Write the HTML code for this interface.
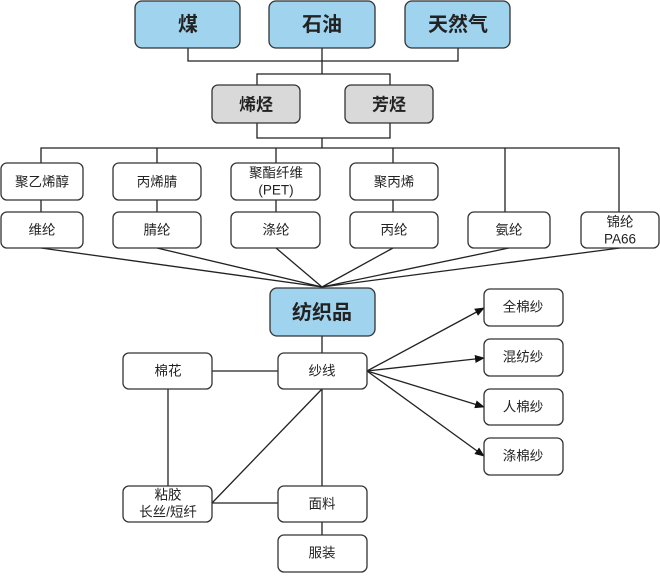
<!DOCTYPE html>
<html><head><meta charset="utf-8"><style>
body{margin:0;background:#fff;}
svg text{font-family:"Liberation Sans","Noto Sans CJK SC",sans-serif;text-anchor:middle;dominant-baseline:central;fill:#222;}
</style></head><body>
<svg width="660" height="573" viewBox="0 0 660 573" xmlns="http://www.w3.org/2000/svg">
<defs><marker id="a" markerWidth="10" markerHeight="8" refX="9" refY="4" orient="auto" markerUnits="userSpaceOnUse"><path d="M0,0 L10,4 L0,8 z" fill="#111"/></marker></defs>
<g stroke="#222" stroke-width="1.3" fill="none">
<path d="M188,48V61H458V48M322,48V74M257,85V74H390V85"/>
<path d="M257,123V138H390V123M322,138V148M41,163V148H619V212M157,148V163M276,148V163M393,148V163M505,148V212"/>
<path d="M41,200V212M157,200V212M276,200V212M393,200V212"/>
<path d="M41,248L322,287M157,248L322,287M276,248L322,287M393,248L322,287M509,248L322,287M620,248L322,287"/>
<path d="M322,336V353M212,371H278M168,389V486M212,503H278M322,389V486M322,389L212,503M322,522V535"/>
<line x1="367" y1="371" x2="484" y2="308" marker-end="url(#a)"/>
<line x1="367" y1="371" x2="484" y2="358" marker-end="url(#a)"/>
<line x1="367" y1="371" x2="484" y2="407" marker-end="url(#a)"/>
<line x1="367" y1="371" x2="484" y2="456" marker-end="url(#a)"/>
</g>
<g stroke="#333" stroke-width="1.3">
<rect x="135" y="1" width="105" height="47" rx="7" fill="#9fd3ee"/>
<rect x="269" y="1" width="106" height="47" rx="7" fill="#9fd3ee"/>
<rect x="405" y="1" width="105" height="47" rx="7" fill="#9fd3ee"/>
<rect x="212" y="85" width="88" height="38" rx="6" fill="#d9d9d9"/>
<rect x="345" y="85" width="88" height="38" rx="6" fill="#d9d9d9"/>
<g fill="#fff">
<rect x="1" y="163" width="82" height="37" rx="6"/>
<rect x="113" y="163" width="88" height="37" rx="6"/>
<rect x="231" y="163" width="89" height="37" rx="6"/>
<rect x="350" y="163" width="88" height="37" rx="6"/>
<rect x="1" y="212" width="82" height="36" rx="6"/>
<rect x="113" y="212" width="88" height="36" rx="6"/>
<rect x="231" y="212" width="89" height="36" rx="6"/>
<rect x="350" y="212" width="88" height="36" rx="6"/>
<rect x="468" y="212" width="82" height="36" rx="6"/>
<rect x="581" y="212" width="78" height="36" rx="6"/>
<rect x="123" y="353" width="89" height="36" rx="6"/>
<rect x="278" y="353" width="89" height="36" rx="6"/>
<rect x="484" y="289" width="79" height="37" rx="6"/>
<rect x="484" y="339" width="79" height="37" rx="6"/>
<rect x="484" y="389" width="79" height="36" rx="6"/>
<rect x="484" y="438" width="79" height="37" rx="6"/>
<rect x="123" y="486" width="89" height="36" rx="6"/>
<rect x="278" y="486" width="89" height="36" rx="6"/>
<rect x="278" y="535" width="89" height="37" rx="6"/>
</g>
<rect x="270" y="288" width="105" height="48" rx="7" fill="#9fd3ee"/>
</g>
<g font-size="20" font-weight="bold">
<text x="188" y="25">煤</text><text x="322" y="25">石油</text><text x="458" y="25">天然气</text>
<text x="322" y="313">纺织品</text>
</g>
<g font-size="17" font-weight="bold">
<text x="256" y="105">烯烃</text><text x="389" y="105">芳烃</text>
</g>
<g font-size="13.5">
<text x="42" y="182">聚乙烯醇</text><text x="157" y="182">丙烯腈</text>
<text x="276" y="173">聚酯纤维</text><text x="276" y="190">(PET)</text>
<text x="394" y="182">聚丙烯</text>
<text x="42" y="230">维纶</text><text x="157" y="230">腈纶</text><text x="276" y="230">涤纶</text><text x="394" y="230">丙纶</text><text x="509" y="230">氨纶</text>
<text x="620" y="222">锦纶</text><text x="620" y="239">PA66</text>
<text x="168" y="371">棉花</text><text x="322" y="371">纱线</text>
<text x="523" y="307">全棉纱</text><text x="523" y="357">混纺纱</text><text x="523" y="407">人棉纱</text><text x="523" y="456">涤棉纱</text>
<text x="168" y="495">粘胶</text><text x="168" y="512">长丝/短纤</text>
<text x="322" y="504">面料</text><text x="322" y="553">服装</text>
</g>
</svg>
</body></html>
